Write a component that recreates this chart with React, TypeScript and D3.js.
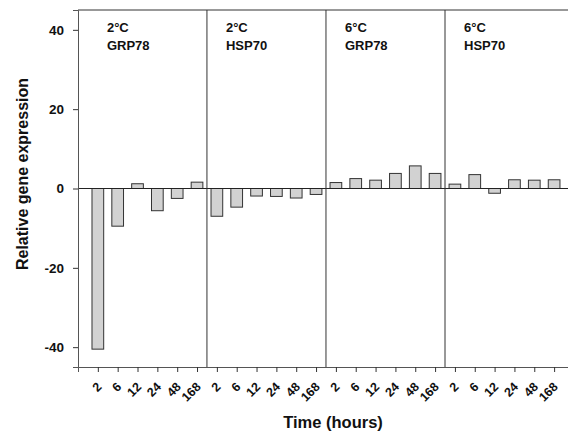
import React, { useEffect, useRef } from "react";
import * as d3 from "d3";

// time points (hours), same for every panel
const times = ["2", "6", "12", "24", "48", "168"];

// panel headings
const panelTemp = ["2°C", "2°C", "6°C", "6°C"];
const panelGene = ["GRP78", "HSP70", "GRP78", "HSP70"];

// relative gene expression per panel
const grp78At2 = [-40.5, -9.5, 1.2, -5.6, -2.5, 1.6];
const hsp70At2 = [-7.0, -4.7, -1.9, -2.0, -2.4, -1.5];
const grp78At6 = [1.5, 2.5, 2.1, 3.8, 5.7, 3.8];
const hsp70At6 = [1.1, 3.5, -1.2, 2.2, 2.1, 2.2];

const panels = [grp78At2, hsp70At2, grp78At6, hsp70At6];
const yTicks = [-40, -20, 0, 20, 40];

const font = "'Liberation Sans', Arial, Helvetica, sans-serif";

export default function App() {
  const ref = useRef<SVGSVGElement>(null);

  useEffect(() => {
    const width = 568;
    const height = 433;
    const margin = { top: 10, right: 0, bottom: 66, left: 78 };

    const svg = d3.select(ref.current);
    svg.selectAll("*").remove();

    // one slot per bar, slot 0 left empty next to the y axis
    const n = times.length;
    const x = d3
      .scaleLinear()
      .domain([0, 24.7])
      .range([margin.left, width - margin.right]);
    const y = d3
      .scaleLinear()
      .domain([-45, 45])
      .range([height - margin.bottom, margin.top]);

    const data = panels.flatMap((vals, p) =>
      vals.map((v, i) => ({ p, i, slot: p * n + i + 1, value: v, label: times[i] }))
    );
    const barW = 11.7;

    // bars
    svg
      .append("g")
      .selectAll("rect")
      .data(data)
      .enter()
      .append("rect")
      .attr("x", (d) => x(d.slot) - barW / 2)
      .attr("width", barW)
      .attr("y", (d) => y(Math.max(0, d.value)))
      .attr("height", (d) => Math.abs(y(d.value) - y(0)))
      .attr("fill", "#d2d2d2")
      .attr("stroke", "#333")
      .attr("stroke-width", 1);

    // zero line
    svg
      .append("line")
      .attr("x1", x(0))
      .attr("x2", x(24.7))
      .attr("y1", y(0))
      .attr("y2", y(0))
      .attr("stroke", "#222")
      .attr("stroke-width", 1);

    // panel dividers
    [1, 2, 3].forEach((p) => {
      const xd = x(p * n + 0.5);
      svg
        .append("line")
        .attr("x1", xd)
        .attr("x2", xd)
        .attr("y1", y(45))
        .attr("y2", y(-45))
        .attr("stroke", "#333")
        .attr("stroke-width", 1);
    });

    // top border
    svg
      .append("line")
      .attr("x1", x(0))
      .attr("x2", x(24.7))
      .attr("y1", y(45))
      .attr("y2", y(45))
      .attr("stroke", "#333")
      .attr("stroke-width", 1);

    // y axis
    const yAxis = svg
      .append("g")
      .attr("transform", `translate(${x(0)},0)`)
      .call(
        d3
          .axisLeft(y)
          .tickValues(yTicks)
          .tickSize(5)
          .tickPadding(9)
          .tickFormat((d) => String(d))
      );
    yAxis.select(".domain").attr("stroke", "#555");
    yAxis.selectAll("line").attr("stroke", "#333");
    yAxis
      .selectAll("text")
      .attr("font-family", font)
      .attr("font-weight", "bold")
      .attr("font-size", 13.5)
      .attr("fill", "#111");

    // x axis (ticks only, labels drawn rotated below)
    const xAxis = svg
      .append("g")
      .attr("transform", `translate(0,${y(-45)})`)
      .call(
        d3
          .axisBottom(x)
          .tickValues(data.map((d) => d.slot))
          .tickSize(5)
          .tickFormat(() => "")
      );
    xAxis.select(".domain").attr("stroke", "#555");
    xAxis.selectAll("line").attr("stroke", "#333");

    const labelY = y(-45) + 17.5;
    svg
      .append("g")
      .selectAll("text")
      .data(data)
      .enter()
      .append("text")
      .attr("x", (d) => x(d.slot) + 1.5)
      .attr("y", labelY)
      .attr("transform", (d) => `rotate(-45 ${x(d.slot) + 1.5} ${labelY})`)
      .attr("text-anchor", "end")
      .attr("dy", "0.35em")
      .attr("font-family", font)
      .attr("font-weight", "bold")
      .attr("font-size", 12.5)
      .attr("fill", "#111")
      .text((d) => d.label);

    // panel headings
    panels.forEach((_, p) => {
      const x0 = x(p * n + 0.5) + 19;
      const g = svg
        .append("text")
        .attr("font-family", font)
        .attr("font-weight", "bold")
        .attr("font-size", 13)
        .attr("fill", "#111");
      g.append("tspan").attr("x", x0).attr("y", 32).text(panelTemp[p]);
      g.append("tspan").attr("x", x0).attr("y", 50).text(panelGene[p]);
    });

    // axis titles
    svg
      .append("text")
      .attr("x", 333)
      .attr("y", 428)
      .attr("text-anchor", "middle")
      .attr("font-family", font)
      .attr("font-weight", "bold")
      .attr("font-size", 16.5)
      .attr("fill", "#111")
      .text("Time (hours)");

    svg
      .append("text")
      .attr("transform", "translate(28,174) rotate(-90)")
      .attr("text-anchor", "middle")
      .attr("font-family", font)
      .attr("font-weight", "bold")
      .attr("font-size", 16)
      .attr("fill", "#111")
      .text("Relative gene expression");
  }, []);

  return (
    <svg
      ref={ref}
      width={568}
      height={433}
      style={{ position: "absolute", left: 0, top: 0, background: "#fff" }}
    />
  );
}
